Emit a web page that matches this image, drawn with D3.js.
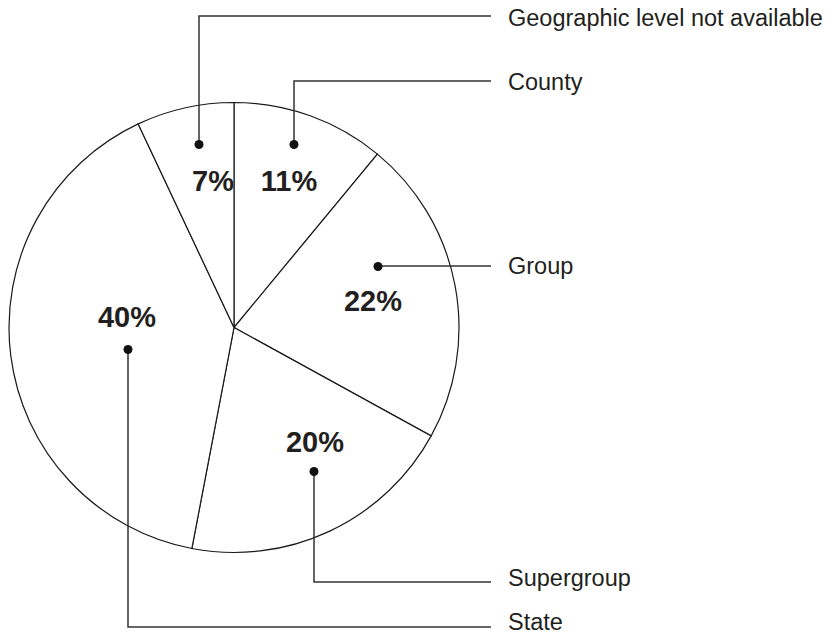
<!DOCTYPE html>
<html>
<head>
<meta charset="utf-8">
<script src="https://cdn.jsdelivr.net/npm/d3@7"></script>
<style>
  body { margin: 0; background: #fff; }
  svg { display: block; font-family: "Liberation Sans", Arial, sans-serif; }
</style>
</head>
<body>
<svg width="835" height="635"></svg>
<script>
// slices, clockwise from 12 o'clock
var categories = ["County", "Group", "Supergroup", "State", "Geographic level not available"];
var shares = [11, 22, 20, 40, 7];
var pctLabels = ["11%", "22%", "20%", "40%", "7%"];

var svg = d3.select("svg"),
    cx = 234, cy = 327.5,
    radius = 225,
    g = svg.append("g").attr("transform", "translate(" + cx + "," + cy + ")");

// callout layout: dot offset from centre, percent text offset, line row y, label y
var callout = {
    "County": { dot: [60, -183], txt: [55, -137], y: 81, ty: 82 },
    "Group": { dot: [144, -61], txt: [139, -17], y: 266, ty: 266 },
    "Supergroup": { dot: [80, 144], txt: [81, 124], y: 582, ty: 578 },
    "State": { dot: [-106, 22], txt: [-107, -1], y: 627, ty: 622 },
    "Geographic level not available": { dot: [-35, -183], txt: [-21, -137], y: 16, ty: 18 }
};
var lineEndX = 491, labelX = 508;

var data = categories.map(function(c, i) {
    return { cat: c, value: shares[i], label: pctLabels[i] };
});

var pie = d3.pie()
    .sort(null)
    .value(function(d) { return d.value; });

var path = d3.arc()
    .outerRadius(radius)
    .innerRadius(0);

var arc = g.selectAll(".arc")
    .data(pie(data))
    .enter().append("g")
      .attr("class", "arc");

arc.append("path")
    .attr("d", path)
    .attr("fill", "#fff")
    .attr("stroke", "#1a1a1a")
    .attr("stroke-width", 1.2);

arc.append("text")
    .attr("x", function(d) { return callout[d.data.cat].txt[0]; })
    .attr("y", function(d) { return callout[d.data.cat].txt[1]; })
    .attr("text-anchor", "middle")
    .attr("font-size", 29)
    .attr("font-weight", "bold")
    .attr("fill", "#231f20")
    .text(function(d) { return d.data.label; });

// leader lines
var lead = svg.append("g");
data.forEach(function(d) {
    var c = callout[d.cat],
        x0 = cx + c.dot[0], y0 = cy + c.dot[1];
    lead.append("path")
        .attr("d", "M" + x0 + "," + y0 + "V" + c.y + "H" + lineEndX)
        .attr("fill", "none")
        .attr("stroke", "#333")
        .attr("stroke-width", 1.5);
    lead.append("circle")
        .attr("cx", x0).attr("cy", y0)
        .attr("r", 4.5)
        .attr("fill", "#111");
    lead.append("text")
        .attr("x", labelX)
        .attr("y", c.ty)
        .attr("dy", "0.35em")
        .attr("font-size", 23.5)
        .attr("fill", "#231f20")
        .text(d.cat);
});
</script>
</body>
</html>
